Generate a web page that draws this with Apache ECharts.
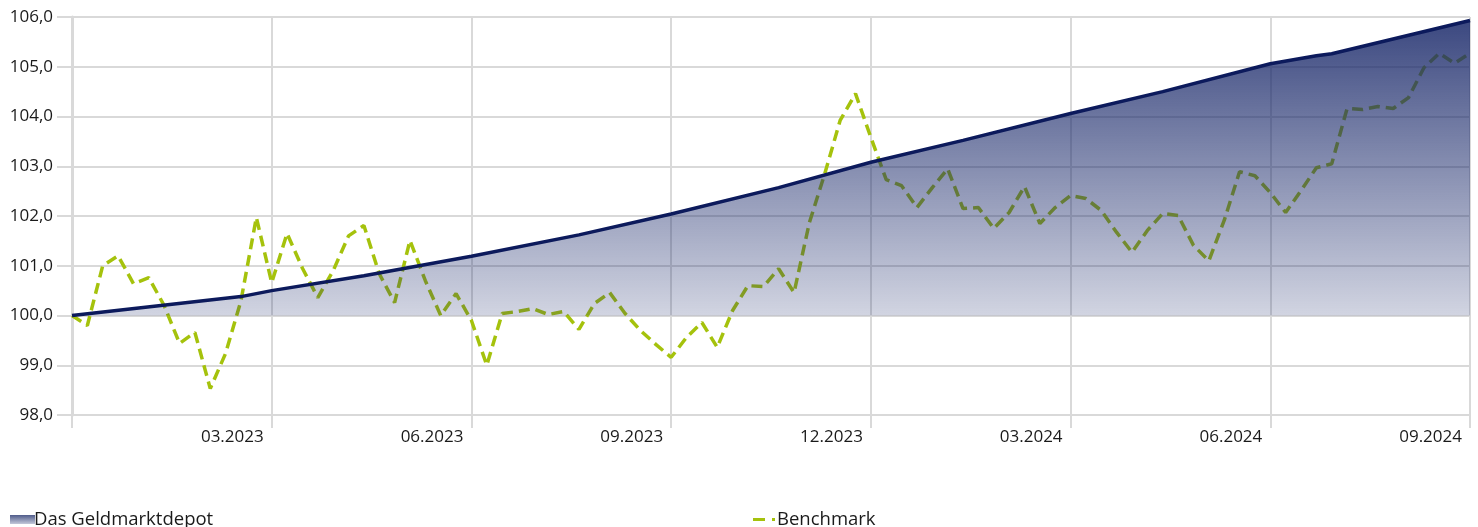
<!DOCTYPE html>
<html>
<head>
<meta charset="utf-8">
<script src="https://cdn.jsdelivr.net/npm/echarts@6/dist/echarts.min.js"></script>
<style>
  html, body { margin: 0; padding: 0; background: #fff; }
  #chart { width: 1478px; height: 527px; }
</style>
</head>
<body>
<div id="chart"></div>
<script>
// quarter tick labels (one every 13 weeks)
const quarterLabels = ['03.2023', '06.2023', '09.2023', '12.2023', '03.2024', '06.2024', '09.2024'];

// weekly benchmark values, week 0 = end of 12.2022
const benchmark = [
  100.0, 99.8, 101.0, 101.2, 100.64, 100.76, 100.2, 99.44, 99.66, 98.53,
  99.24, 100.3, 101.97, 100.66, 101.65, 100.95, 100.36, 100.9, 101.6, 101.81,
  100.84, 100.26, 101.51, 100.7, 100.0, 100.44, 99.9, 99.0, 100.04, 100.08,
  100.14, 100.02, 100.08, 99.72, 100.24, 100.46, 100.04, 99.7, 99.42, 99.16,
  99.56, 99.86, 99.36, 100.1, 100.6, 100.58, 100.94, 100.46, 101.87, 102.85,
  103.92, 104.46, 103.58, 102.73, 102.61, 102.17, 102.57, 102.95, 102.15, 102.17,
  101.75, 102.07, 102.59, 101.85, 102.17, 102.41, 102.35, 102.11, 101.67, 101.27,
  101.71, 102.05, 102.01, 101.41, 101.1, 101.91, 102.89, 102.81, 102.47, 102.07,
  102.51, 102.97, 103.05, 104.16, 104.14, 104.2, 104.16, 104.38, 104.98, 105.27,
  105.07, 105.27
];

// Geldmarktdepot: weeks where the line bends, and its values there
const geldWeeks = [0, 11, 13, 19, 26, 33, 39, 46, 52, 58, 65, 71, 78, 81, 82, 91];
const geldValues = [100.0, 100.38, 100.5, 100.8, 101.19, 101.62, 102.04, 102.57, 103.08, 103.52, 104.06, 104.5, 105.06, 105.22, 105.26, 105.93];

const chart = echarts.init(document.getElementById('chart'));

const gridColor = '#d9d9d9';
const lime = '#a5c20c';
const font = '"Open Sans", "Noto Sans", sans-serif';

const areaFill = new echarts.graphic.LinearGradient(0, 0, 0, 1, [
  { offset: 0, color: 'rgba(27, 42, 107, 0.86)' },
  { offset: 1, color: 'rgba(27, 42, 107, 0.2)' }
]);
const legendFill = new echarts.graphic.LinearGradient(0, 0, 0, 1, [
  { offset: 0, color: '#4f5b8a' },
  { offset: 1, color: '#c3c8d9' }
]);

const option = {
  animation: false,
  grid: { left: 72, right: 8, top: 17, bottom: 112, containLabel: false },
  legend: [
    {
      left: 5,
      top: 505,
      itemWidth: 25,
      itemHeight: 9,
      textStyle: { fontFamily: font, fontSize: 18.5, color: '#1a1a1a', padding: [0, 0, 0, -6] },
      data: [{ name: 'Das Geldmarktdepot', icon: 'rect', itemStyle: { color: legendFill } }]
    },
    {
      left: 748,
      top: 505,
      itemWidth: 22,
      itemHeight: 3,
      symbolKeepAspect: false,
      textStyle: { fontFamily: font, fontSize: 18.5, color: '#1a1a1a', padding: [0, 0, 0, -3] },
      data: [{
        name: 'Benchmark',
        icon: 'path://M0,0H12V3H0ZM19,0H22V3H19Z',
        itemStyle: { color: lime }
      }]
    }
  ],
  xAxis: {
    type: 'value',
    min: 0,
    max: 91,
    interval: 13,
    axisLine: { show: true, lineStyle: { color: gridColor, width: 2 } },
    axisTick: { show: true, length: 13, lineStyle: { color: gridColor, width: 2 } },
    splitLine: { show: true, lineStyle: { color: gridColor, width: 2 } },
    axisLabel: {
      fontFamily: font,
      fontSize: 17,
      color: '#1a1a1a',
      align: 'right',
      margin: 14,
      padding: [0, 8, 0, 0],
      showMinLabel: true,
      formatter: function (v) {
        const k = Math.round(v / 13);
        return k > 0 ? quarterLabels[k - 1] : '';
      }
    }
  },
  yAxis: {
    type: 'value',
    min: 98,
    max: 106,
    interval: 1,
    axisLine: { show: true, lineStyle: { color: gridColor, width: 3 } },
    axisTick: { show: true, length: 15, lineStyle: { color: gridColor, width: 2 } },
    splitLine: { show: true, lineStyle: { color: gridColor, width: 2 } },
    axisLabel: {
      fontFamily: font,
      fontSize: 17,
      color: '#1a1a1a',
      margin: 19,
      formatter: function (v) { return v.toFixed(1).replace('.', ','); }
    }
  },
  series: [
    {
      name: 'Benchmark',
      type: 'line',
      z: 2,
      data: benchmark.map(function (v, i) { return [i, v]; }),
      showSymbol: false,
      symbol: 'none',
      lineStyle: { color: lime, width: 3.5, type: [11, 6] },
      itemStyle: { color: lime }
    },
    {
      name: 'Das Geldmarktdepot',
      type: 'line',
      z: 3,
      data: geldWeeks.map(function (w, i) { return [w, geldValues[i]]; }),
      showSymbol: false,
      symbol: 'none',
      lineStyle: { color: '#0c1a5c', width: 3.5 },
      itemStyle: { color: '#0c1a5c' },
      areaStyle: { origin: 100, color: areaFill, opacity: 1 }
    }
  ]
};

chart.setOption(option);
</script>
</body>
</html>
